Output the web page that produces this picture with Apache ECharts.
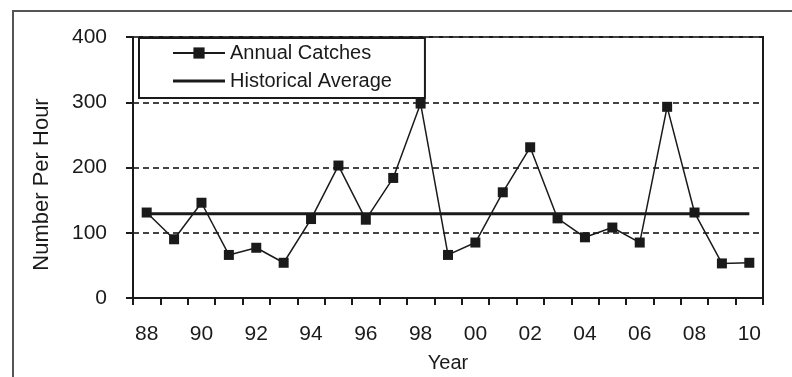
<!DOCTYPE html>
<html>
<head>
<meta charset="utf-8">
<style>
  html, body { margin: 0; padding: 0; background: #fff; }
  #chart { width: 792px; height: 377px; }
</style>
<script src="https://cdn.jsdelivr.net/npm/echarts@6/dist/echarts.min.js"></script>
</head>
<body>
<div id="chart"></div>
<script>
const years = ["88", "89", "90", "91", "92", "93", "94", "95", "96", "97", "98", "99",
    "00", "01", "02", "03", "04", "05", "06", "07", "08", "09", "10"];
const annualCatches = [131, 90, 146, 66, 77, 54, 121, 203, 120, 184, 298, 66,
    85, 162, 231, 122, 93, 108, 85, 293, 131, 53, 54];
const historicalAverage = [["88", 129], ["10", 129]];
const yTicks = { min: 0, max: 400, step: 100 };

const font = "Liberation Sans";
const ink = "#1a1a1a";

const chart = echarts.init(document.getElementById("chart"));

const option = {
    animation: false,
    backgroundColor: "#fff",
    textStyle: { fontFamily: font },
    graphic: [
        {
            type: "rect",
            z: -10,
            shape: { x: 13, y: 11, width: 900, height: 500 },
            style: { fill: "none", stroke: "#555", lineWidth: 2 },
        },
    ],
    grid: {
        left: 133,
        top: 37,
        right: 29,
        bottom: 79,
        outerBoundsMode: "none",
        show: true,
        borderColor: ink,
        borderWidth: 2,
    },
    legend: {
        orient: "vertical",
        left: 139,
        top: 38,
        padding: [5, 33, 7, 33],
        itemGap: 8,
        itemWidth: 52,
        itemHeight: 14,
        borderColor: ink,
        borderWidth: 2,
        backgroundColor: "#fff",
        textStyle: { fontFamily: font, fontSize: 20, color: ink },
        data: [
            { name: "Annual Catches" },
            { name: "Historical Average", icon: "path://M0,0L52,0L52,3L0,3Z" },
        ],
    },
    xAxis: {
        type: "category",
        data: years,
        boundaryGap: true,
        name: "Year",
        nameLocation: "middle",
        nameGap: 55,
        nameTextStyle: { fontSize: 20, color: ink },
        axisLine: { lineStyle: { color: ink, width: 2 } },
        axisTick: { show: true, interval: 0, length: 7, lineStyle: { color: ink, width: 2 } },
        axisLabel: { interval: 1, margin: 26, fontSize: 21, color: ink },
        splitLine: { show: false },
    },
    yAxis: {
        type: "value",
        min: yTicks.min,
        max: yTicks.max,
        interval: yTicks.step,
        name: "Number Per Hour",
        nameLocation: "middle",
        nameGap: 80,
        nameRotate: 90,
        nameTextStyle: { fontSize: 22, color: ink, padding: [0, 34, 0, 0] },
        axisLine: { show: true, lineStyle: { color: ink, width: 2 } },
        axisTick: { show: true, length: 7, lineStyle: { color: ink, width: 2 } },
        axisLabel: { margin: 26, fontSize: 21, color: ink },
        splitLine: {
            show: true,
            lineStyle: { color: "#444", type: [6, 4], width: 2 },
        },
    },
    series: [
        {
            name: "Annual Catches",
            type: "line",
            data: annualCatches,
            symbol: "rect",
            symbolSize: 10,
            lineStyle: { color: ink, width: 1.5 },
            itemStyle: { color: ink },
            z: 3,
        },
        {
            name: "Historical Average",
            type: "line",
            data: historicalAverage,
            symbol: "none",
            lineStyle: { color: ink, width: 3 },
            itemStyle: { color: ink },
            z: 2,
        },
    ],
};

chart.setOption(option);
</script>
</body>
</html>
